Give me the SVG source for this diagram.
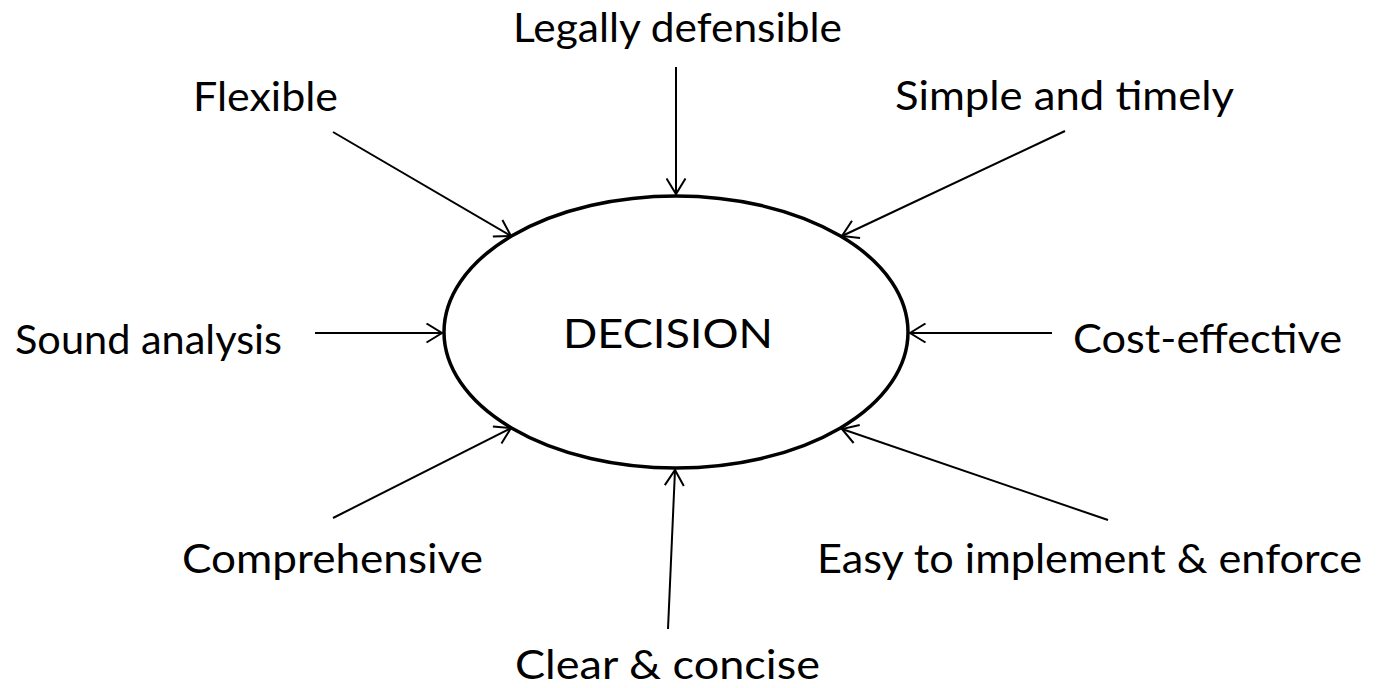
<svg xmlns="http://www.w3.org/2000/svg" width="1382" height="688" viewBox="0 0 1382 688">
  <defs>
    <style>
      .lbl { font-family: "Lato", "Open Sans", "Liberation Sans", sans-serif; font-size: 41px; fill: #000; }
      .conn { stroke: #000; stroke-width: 2; fill: none; marker-end: url(#open-arrow); }
      .core { fill: #fff; stroke: #000; stroke-width: 3.5; }
    </style>
    <marker id="open-arrow" markerUnits="userSpaceOnUse" viewBox="0 0 18 21" markerWidth="18" markerHeight="21" refX="16.5" refY="10.5" orient="auto">
      <path d="M1,1 L16.5,10.5 L1,20" fill="none" stroke="#000" stroke-width="2"/>
    </marker>
  </defs>
  <rect width="1382" height="688" fill="#fff"/>

  <!-- central node -->
  <g id="decision">
    <ellipse class="core" cx="676" cy="332" rx="232" ry="136"/>
    <text class="lbl" x="563" y="348" textLength="210" lengthAdjust="spacingAndGlyphs">DECISION</text>
  </g>

  <!-- criteria pointing into the decision -->
  <g id="connectors">
    <line class="conn" x1="676" y1="67" x2="676" y2="194"/>
    <line class="conn" x1="333" y1="132" x2="511" y2="236"/>
    <line class="conn" x1="1065" y1="131" x2="842" y2="236"/>
    <line class="conn" x1="315" y1="333" x2="442" y2="333"/>
    <line class="conn" x1="1052" y1="333" x2="910" y2="333"/>
    <line class="conn" x1="333" y1="518" x2="511" y2="428"/>
    <line class="conn" x1="1108" y1="520" x2="842" y2="429"/>
    <line class="conn" x1="668" y1="629" x2="675" y2="470"/>
  </g>

  <g id="legally-defensible">
    <text class="lbl" x="513" y="42" textLength="329" lengthAdjust="spacingAndGlyphs">Legally defensible</text>
  </g>
  <g id="flexible">
    <text class="lbl" x="193" y="111" textLength="145" lengthAdjust="spacingAndGlyphs">Flexible</text>
  </g>
  <g id="simple-and-timely">
    <text class="lbl" x="895" y="110" textLength="339" lengthAdjust="spacingAndGlyphs">Simple and timely</text>
  </g>
  <g id="sound-analysis">
    <text class="lbl" x="15" y="354" textLength="267" lengthAdjust="spacingAndGlyphs">Sound analysis</text>
  </g>
  <g id="cost-effective">
    <text class="lbl" x="1073" y="353" textLength="269" lengthAdjust="spacingAndGlyphs">Cost-effective</text>
  </g>
  <g id="comprehensive">
    <text class="lbl" x="182" y="573" textLength="301" lengthAdjust="spacingAndGlyphs">Comprehensive</text>
  </g>
  <g id="easy-to-implement">
    <text class="lbl" x="817" y="573" textLength="545" lengthAdjust="spacingAndGlyphs">Easy to implement &amp; enforce</text>
  </g>
  <g id="clear-and-concise">
    <text class="lbl" x="515" y="679" textLength="305" lengthAdjust="spacingAndGlyphs">Clear &amp; concise</text>
  </g>
</svg>
